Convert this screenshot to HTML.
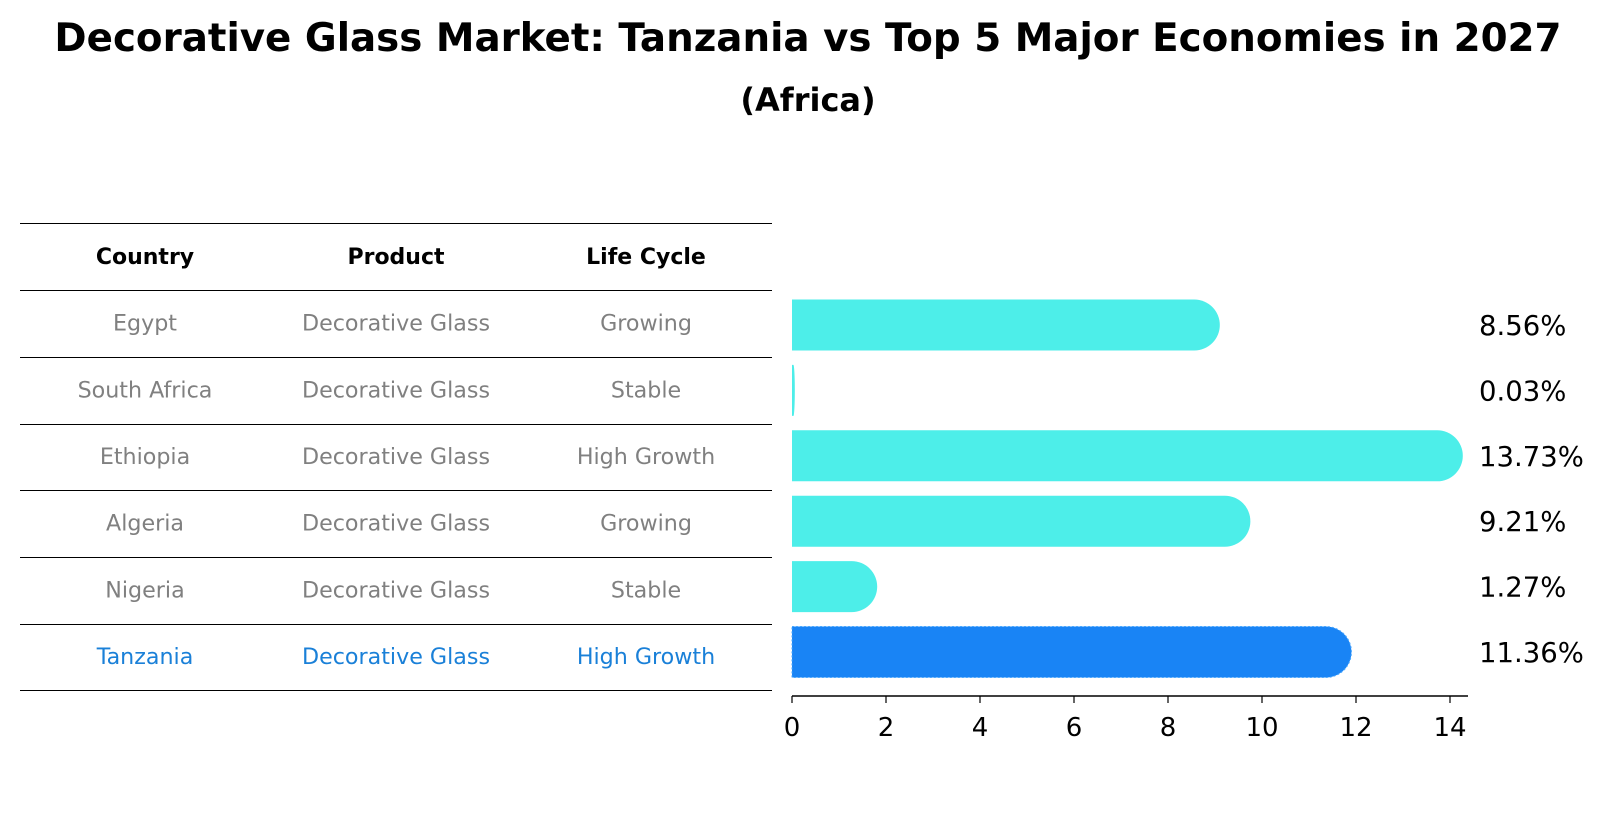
<!DOCTYPE html>
<html><head><meta charset="utf-8"><style>
body{margin:0;background:#fff;width:1604px;height:823px;overflow:hidden;font-family:"Liberation Sans","DejaVu Sans",sans-serif}
</style></head><body>
<svg width="1604" height="823" font-family="DejaVu Sans, Liberation Sans, sans-serif">
<text x="808" y="51" text-anchor="middle" font-size="38.8" font-weight="bold">Decorative Glass Market: Tanzania vs Top 5 Major Economies in 2027</text>
<text x="808" y="111" text-anchor="middle" font-size="32" font-weight="bold">(Africa)</text>
<g id="table"></g>
<g id="bars"></g>
</svg>
<script>
const countries=["Egypt","South Africa","Ethiopia","Algeria","Nigeria","Tanzania"];
const products=["Decorative Glass","Decorative Glass","Decorative Glass","Decorative Glass","Decorative Glass","Decorative Glass"];
const lifeCycles=["Growing","Stable","High Growth","Growing","Stable","High Growth"];
const values=[8.56,0.03,13.73,9.21,1.27,11.36];
const xTicks=[0,2,4,6,8,10,12,14];
const NS="http://www.w3.org/2000/svg";
function mk(t,a,p){const e=document.createElementNS(NS,t);for(const k in a)e.setAttribute(k,a[k]);p.appendChild(e);return e;}
const tbl=document.getElementById('table'),bars=document.getElementById('bars');
const lines=[223,290,357,424,490,557,624,690];
const colX=[145,396,646];
lines.forEach((y,i)=>{const l=mk('line',{x1:20,x2:772,y1:y+0.5,y2:y+0.5,stroke:'#000','stroke-width':1},tbl);

});
["Country","Product","Life Cycle"].forEach((h,i)=>{const t=mk('text',{x:colX[i],y:264,'text-anchor':'middle','font-size':22,'font-weight':'bold'},tbl);t.textContent=h;

});
const xS=v=>792+v*47;
const r=25.5;
countries.forEach((c,i)=>{
 const y=(lines[i+1]+lines[i+2])/2;
 const hl=i===countries.length-1;
 const col=hl?'#1a80d8':'#808080';
 [c,products[i],lifeCycles[i]].forEach((s,j)=>{const t=mk('text',{x:colX[j],y:y+7,'text-anchor':'middle','font-size':22.2,fill:col},tbl);t.textContent=s;
 
 });
 const cy=325+i*65.4;
 const x0=xS(0),x1=xS(values[i]);const w=x1-x0;const rx=Math.min(r,w);
 const d=`M${x0},${cy-r}H${x1}A${rx},${r} 0 0 1 ${x1},${cy+r}H${x0}Z`;
 const p=mk('path',{d:d,fill:hl?'#1984f5':'#4deee9'},bars);
 if(hl){p.setAttribute('stroke','#4aa8ff');p.setAttribute('stroke-dasharray','2,2');}
 
 
 const t=mk('text',{x:1479,y:cy+10,'font-size':27.5},bars);t.textContent=values[i].toFixed(2)+'%';
 
 
});
const ax=mk('line',{x1:792,x2:1468,y1:696,y2:696,stroke:'#000','stroke-width':1.5},bars);


xTicks.forEach(v=>{const l=mk('line',{x1:xS(v),x2:xS(v),y1:696,y2:703,stroke:'#000','stroke-width':1.2},bars);


const t=mk('text',{x:xS(v),y:736,'text-anchor':'middle','font-size':26},bars);t.textContent=v;

});
</script>
</body></html>
